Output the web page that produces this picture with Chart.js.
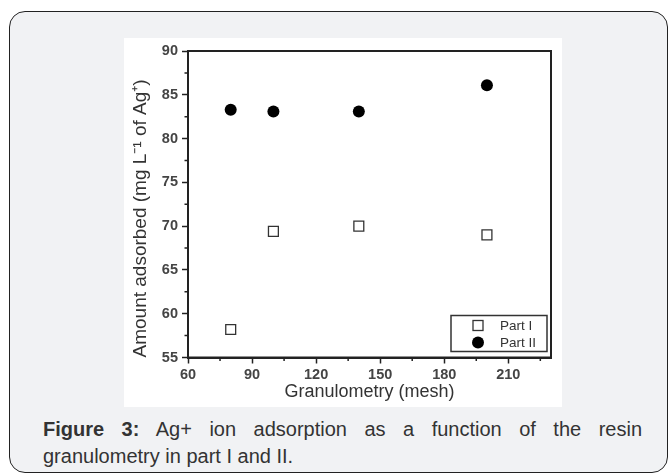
<!DOCTYPE html>
<html><head><meta charset="utf-8">
<script src="https://cdn.jsdelivr.net/npm/chart.js@4"></script>
<style>
html,body{margin:0;padding:0;background:#fff;width:670px;height:475px;overflow:hidden;font-family:"Liberation Sans",Arial,sans-serif;}
#box{position:absolute;left:9px;top:11px;width:659px;height:462px;box-sizing:border-box;border:1.5px solid #222;border-radius:16px;background:#f1f2f4;}
#plot{position:absolute;left:124px;top:38px;width:438px;height:369px;background:#fff;}
#cap{position:absolute;left:43px;top:416px;width:599px;font-size:20px;line-height:27px;color:#333;text-align:justify;}
</style>
</head><body>
<div id="box"></div>
<div id="plot"><canvas id="c"></canvas></div>
<div id="cap"><b>Figure 3:</b> Ag+ ion adsorption as a function of the resin granulometry in part I and II.</div>
<script>
const meshValues = [80, 100, 140, 200];
const partI = [58.2, 69.4, 70.0, 69.0];
const partII = [83.3, 83.1, 83.1, 86.1];
const seriesLabels = ['Part I', 'Part II'];
const xMajorTicks = [60, 90, 120, 150, 180, 210];
const xMinorTicks = [75, 105, 135, 165, 195, 225];
const yMajorTicks = [55, 60, 65, 70, 75, 80, 85, 90];
const yMinorTicks = [57.5, 62.5, 67.5, 72.5, 77.5, 82.5, 87.5];
const xTitle = 'Granulometry (mesh)';
const yTitle = 'Amount adsorbed (mg L\u207B\u00B9 of Ag\u207A)';

const INK = '#222';
const TXT = '#333';
const FAM = '"Liberation Sans", Arial, sans-serif';

const framePlugin = {
  id: 'frame',
  beforeDatasetsDraw(chart) {
    const {ctx, chartArea: a, scales} = chart;
    ctx.save();
    ctx.strokeStyle = INK;
    ctx.lineWidth = 2;
    ctx.strokeRect(a.left, a.top, a.right - a.left, a.bottom - a.top);
    ctx.lineWidth = 1.5;
    ctx.beginPath();
    xMinorTicks.forEach(v => {
      const x = scales.x.getPixelForValue(v);
      ctx.moveTo(x, a.bottom); ctx.lineTo(x, a.bottom + 3.5);
    });
    yMinorTicks.forEach(v => {
      const y = scales.y.getPixelForValue(v);
      ctx.moveTo(a.left, y); ctx.lineTo(a.left - 3.5, y);
    });
    ctx.stroke();
    ctx.restore();
  },
  afterDraw(chart) {
    const {ctx, chartArea: a} = chart;
    const bx = a.right - 100, by = a.bottom - 42, bw = 96, bh = 36;
    ctx.save();
    ctx.fillStyle = '#fff';
    ctx.fillRect(bx, by, bw, bh);
    ctx.strokeStyle = '#333';
    ctx.lineWidth = 1.5;
    ctx.strokeRect(bx, by, bw, bh);
    ctx.font = '13.5px ' + FAM;
    ctx.textBaseline = 'middle';
    ctx.textAlign = 'left';
    chart.data.datasets.forEach((ds, i) => {
      const cy = by + 10 + i * 17;
      const cx = bx + 27;
      if (i === 0) {
        ctx.fillStyle = '#fff';
        ctx.strokeStyle = '#333';
        ctx.lineWidth = 1.3;
        ctx.fillRect(cx - 5, cy - 5, 10, 10);
        ctx.strokeRect(cx - 5, cy - 5, 10, 10);
      } else {
        ctx.fillStyle = '#000';
        ctx.beginPath(); ctx.arc(cx, cy, 6, 0, Math.PI * 2); ctx.fill();
      }
      ctx.fillStyle = TXT;
      ctx.fillText(ds.label, bx + 49, cy + 1);
    });
    ctx.restore();
  }
};

new Chart(document.getElementById('c'), {
  type: 'scatter',
  data: {
    datasets: [
      {
        label: seriesLabels[0],
        data: meshValues.map((x, i) => ({x, y: partI[i]})),
        pointStyle: 'rect', pointRadius: 7, pointHoverRadius: 7,
        backgroundColor: '#fff', borderColor: '#333', borderWidth: 1.3
      },
      {
        label: seriesLabels[1],
        data: meshValues.map((x, i) => ({x, y: partII[i]})),
        pointStyle: 'circle', pointRadius: 6, pointHoverRadius: 6,
        backgroundColor: '#000', borderColor: '#000', borderWidth: 0
      }
    ]
  },
  options: {
    responsive: true, maintainAspectRatio: false, animation: false,
    layout: {padding: {left: 0, top: 13, right: 11, bottom: 0}},
    plugins: {legend: {display: false}, tooltip: {enabled: false}},
    scales: {
      x: {
        type: 'linear', min: 60, max: 230,
        afterFit: s => { s.height = 49.5; },
        afterBuildTicks: s => { s.ticks = xMajorTicks.map(v => ({value: v})); },
        grid: {display: true, drawOnChartArea: false, drawTicks: true, tickLength: 6, tickWidth: 1.5, tickColor: INK},
        border: {display: true, width: 2, color: INK},
        ticks: {padding: 3, color: '#444', font: {size: 14.5, weight: 'bold', family: FAM}},
        title: {display: true, text: xTitle, color: TXT, padding: {top: 0, bottom: 4},
                font: {size: 18, family: FAM}}
      },
      y: {
        type: 'linear', min: 55, max: 90,
        afterFit: s => { s.width = 64; },
        afterBuildTicks: s => { s.ticks = yMajorTicks.map(v => ({value: v})); },
        grid: {display: true, drawOnChartArea: false, drawTicks: true, tickLength: 6, tickWidth: 1.5, tickColor: INK},
        border: {display: true, width: 2, color: INK},
        ticks: {padding: 4, color: '#444', font: {size: 14.5, weight: 'bold', family: FAM}},
        title: {display: true, text: yTitle, color: TXT, align: 'start', padding: {top: 5, bottom: 0},
                font: {size: 19, family: FAM}}
      }
    }
  },
  plugins: [framePlugin]
});
</script>
</body></html>
